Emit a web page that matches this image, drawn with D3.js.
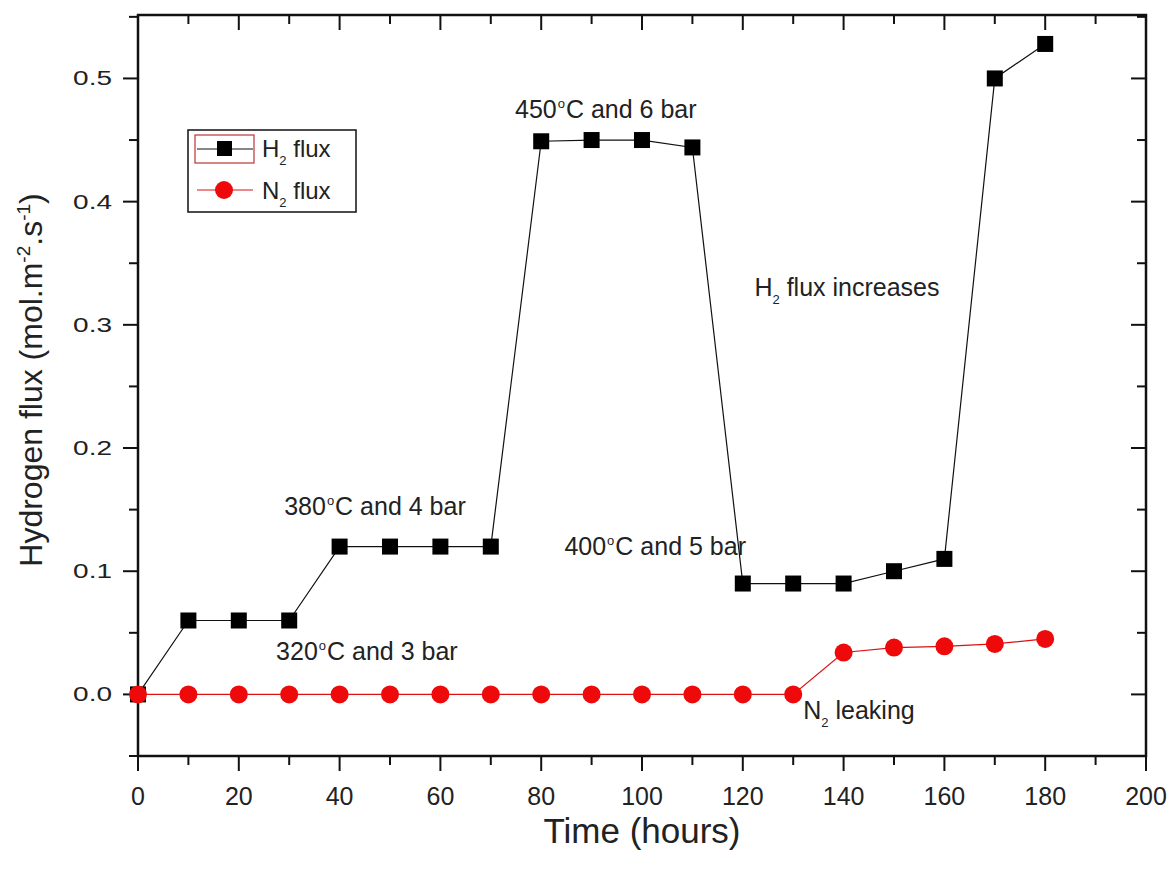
<!DOCTYPE html>
<html>
<head>
<meta charset="utf-8">
<script src="https://cdn.jsdelivr.net/npm/d3@7"></script>
<style>
  html, body { margin: 0; padding: 0; background: #fff; }
  svg { display: block; font-family: "Liberation Sans", Arial, sans-serif; }
</style>
</head>
<body>
<svg id="chart" width="1173" height="871"></svg>
<script>
// Time in hours and measured fluxes
const hours = [0, 10, 20, 30, 40, 50, 60, 70, 80, 90, 100, 110, 120, 130, 140, 150, 160, 170, 180];
const h2Flux = [0, 0.06, 0.06, 0.06, 0.12, 0.12, 0.12, 0.12, 0.449, 0.45, 0.45, 0.444, 0.09, 0.09, 0.09, 0.10, 0.11, 0.50, 0.528];
const n2Flux = [0, 0, 0, 0, 0, 0, 0, 0, 0, 0, 0, 0, 0, 0, 0.034, 0.038, 0.039, 0.041, 0.045];

const xTicks = [0, 20, 40, 60, 80, 100, 120, 140, 160, 180, 200];
const yTicks = [0.0, 0.1, 0.2, 0.3, 0.4, 0.5];

// Operating-condition notes placed in data coordinates
const conditionNotes = [
  { t: 74.8, v: 0.468, pre: "450", post: "C and 6 bar" },
  { t: 29.0, v: 0.146, pre: "380", post: "C and 4 bar" },
  { t: 84.6, v: 0.113, pre: "400", post: "C and 5 bar" },
  { t: 27.4, v: 0.028, pre: "320", post: "C and 3 bar" }
];

const svg = d3.select("#chart");
const m = { left: 138, right: 1146, top: 15, bottom: 756 };

const x = d3.scaleLinear().domain([0, 200]).range([m.left, m.right]);
const y = d3.scaleLinear().domain([-0.05, 0.5515]).range([m.bottom, m.top]);

const ink = "#111";
const textCol = "#222";
const fs = 25;

// Frame
svg.append("rect")
  .attr("x", m.left).attr("y", m.top)
  .attr("width", m.right - m.left).attr("height", m.bottom - m.top)
  .attr("fill", "none").attr("stroke", ink).attr("stroke-width", 2.5);

// Ticks: bottom/left outward, top/right inward
const xMinor = d3.range(10, 200, 20);
const yMinor = [-0.05, 0.05, 0.15, 0.25, 0.35, 0.45, 0.55].filter(v => y(v) >= m.top - 1);

const tickG = svg.append("g").attr("stroke", ink).attr("stroke-width", 2);
xTicks.forEach(v => {
  tickG.append("line").attr("x1", x(v)).attr("x2", x(v)).attr("y1", m.bottom).attr("y2", m.bottom + 15);
  tickG.append("line").attr("x1", x(v)).attr("x2", x(v)).attr("y1", m.top).attr("y2", m.top + 15);
});
xMinor.forEach(v => {
  tickG.append("line").attr("x1", x(v)).attr("x2", x(v)).attr("y1", m.bottom).attr("y2", m.bottom + 9);
  tickG.append("line").attr("x1", x(v)).attr("x2", x(v)).attr("y1", m.top).attr("y2", m.top + 9);
});
yTicks.forEach(v => {
  tickG.append("line").attr("x1", m.left - 15).attr("x2", m.left).attr("y1", y(v)).attr("y2", y(v));
  tickG.append("line").attr("x1", m.right - 15).attr("x2", m.right).attr("y1", y(v)).attr("y2", y(v));
});
yMinor.forEach(v => {
  tickG.append("line").attr("x1", m.left - 9).attr("x2", m.left).attr("y1", y(v)).attr("y2", y(v));
  tickG.append("line").attr("x1", m.right - 9).attr("x2", m.right).attr("y1", y(v)).attr("y2", y(v));
});

// Tick labels
svg.append("g").selectAll("text").data(xTicks).join("text")
  .attr("x", d => x(d)).attr("y", 805)
  .attr("text-anchor", "middle").attr("font-size", 25).attr("fill", textCol)
  .text(d => d);
// y labels are drawn wide
svg.append("g").selectAll("text").data(yTicks).join("text")
  .attr("transform", d => `translate(112,${y(d) + 7}) scale(1.4,1)`)
  .attr("text-anchor", "end").attr("font-size", 20).attr("fill", textCol)
  .text(d => d.toFixed(1));

// Axis titles
svg.append("text")
  .attr("x", 642).attr("y", 843)
  .attr("text-anchor", "middle").attr("font-size", 35).attr("fill", textCol)
  .text("Time (hours)");

const yTitle = svg.append("text")
  .attr("transform", `translate(42,380) rotate(-90)`)
  .attr("text-anchor", "middle").attr("font-size", 32).attr("fill", textCol);
yTitle.append("tspan").text("Hydrogen flux (mol.m");
yTitle.append("tspan").attr("dy", -12).attr("font-size", 19).text("-2");
yTitle.append("tspan").attr("dy", 12).text(".s");
yTitle.append("tspan").attr("dy", -12).attr("font-size", 19).text("-1");
yTitle.append("tspan").attr("dy", 12).text(")");

// Series lines
const line = d3.line().x(d => x(d[0])).y(d => y(d[1]));
const h2Pts = hours.map((h, i) => [h, h2Flux[i]]);
const n2Pts = hours.map((h, i) => [h, n2Flux[i]]);

svg.append("path").datum(h2Pts).attr("d", line)
  .attr("fill", "none").attr("stroke", "#111").attr("stroke-width", 1.2);
svg.append("path").datum(n2Pts).attr("d", line)
  .attr("fill", "none").attr("stroke", "#d11").attr("stroke-width", 1.2);

// H2 markers: squares
const sq = 16;
svg.append("g").selectAll("rect").data(h2Pts).join("rect")
  .attr("x", d => x(d[0]) - sq / 2).attr("y", d => y(d[1]) - sq / 2)
  .attr("width", sq).attr("height", sq).attr("fill", "#000");

// N2 markers: circles
svg.append("g").selectAll("circle").data(n2Pts).join("circle")
  .attr("cx", d => x(d[0])).attr("cy", d => y(d[1])).attr("r", 9)
  .attr("fill", "#ee0a0a");

// Condition annotations with degree sign
conditionNotes.forEach(n => {
  const t = svg.append("text")
    .attr("x", x(n.t)).attr("y", y(n.v))
    .attr("font-size", fs).attr("fill", textCol);
  t.append("tspan").text(n.pre);
  t.append("tspan").attr("dy", -10).attr("dx", 1).attr("font-size", 13).text("o");
  t.append("tspan").attr("dy", 10).attr("dx", 1).text(n.post);
});

// Subscripted labels
function subLabel(g, px, py, base, rest, size) {
  const t = g.append("text").attr("x", px).attr("y", py)
    .attr("font-size", size).attr("fill", textCol);
  t.append("tspan").text(base);
  t.append("tspan").attr("dy", 8).attr("font-size", 13).text("2");
  t.append("tspan").attr("dy", -8).text(rest);
  return t;
}
subLabel(svg, x(122.3), y(0.323), "H", "  flux increases", fs);
subLabel(svg, x(132.0), y(-0.020), "N", "  leaking", fs);

// Legend
const lg = svg.append("g");
lg.append("rect").attr("x", 188).attr("y", 130).attr("width", 168).attr("height", 82)
  .attr("fill", "#fff").attr("stroke", ink).attr("stroke-width", 1.5);
lg.append("rect").attr("x", 195).attr("y", 135).attr("width", 59).attr("height", 28)
  .attr("fill", "none").attr("stroke", "#b33").attr("stroke-width", 1.2);
lg.append("line").attr("x1", 197).attr("x2", 253).attr("y1", 149).attr("y2", 149)
  .attr("stroke", "#111").attr("stroke-width", 1.2);
lg.append("rect").attr("x", 217).attr("y", 141).attr("width", 15).attr("height", 15).attr("fill", "#000");
lg.append("line").attr("x1", 197).attr("x2", 253).attr("y1", 190).attr("y2", 190)
  .attr("stroke", "#d11").attr("stroke-width", 1.2);
lg.append("circle").attr("cx", 224).attr("cy", 190).attr("r", 9).attr("fill", "#ee0a0a");

subLabel(lg, 262, 157, "H", "  flux", 24);
subLabel(lg, 262, 199, "N", "  flux", 24);
</script>
</body>
</html>
